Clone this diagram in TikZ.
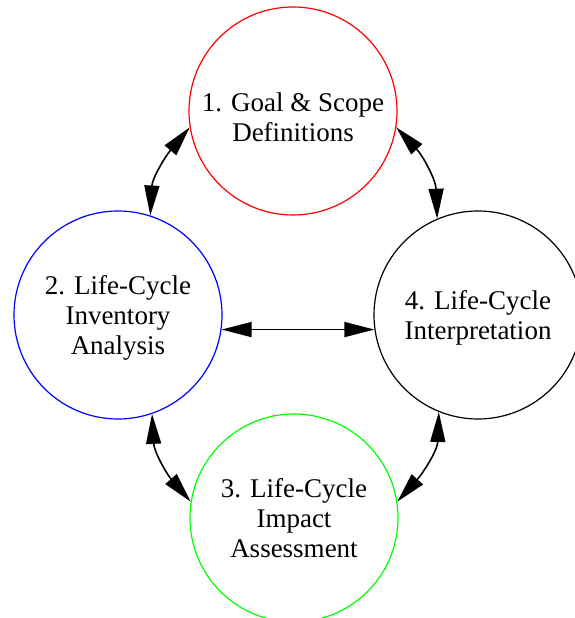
\documentclass[tikz,border=0pt]{standalone}
\usepackage{fontspec}
\setmainfont{Liberation Serif}
\usepackage{tikz}
\usetikzlibrary{arrows.meta}

\begin{document}
\begin{tikzpicture}[x=1pt,y=1pt]
\def\xmax{574};
\def\ymax{618};
\def\rad{104};

% Fix the page to the size of the reference
\useasboundingbox (0,0) rectangle (\xmax,\ymax);

% Style for the four stage circles and their text
\tikzstyle{stage}=[circle, draw, line width=1.2pt, minimum size=2*\rad pt, inner sep=0pt,
  align=center, font=\fontsize{27pt}{30pt}\selectfont, text=black, text depth=0pt]

% Style for the two-headed links between the stages
\tikzstyle{link}=[{Triangle[length=30pt,width=15pt]}-{Triangle[length=30pt,width=15pt]},
  line width=1.6pt, black]

% The four stages, placed round the page
\node[stage, draw=red, text height=62pt] (goal) at (293,507) {1. Goal \& Scope\\Definitions};
\node[stage, draw=blue] (inventory) at (118,303) {2. Life-Cycle\\Inventory\\Analysis};
\node[stage, draw=green] (impact) at (294,100) {3. Life-Cycle\\Impact\\Assessment};
\node[stage, draw=black] (interp) at (478,303) {4. Life-Cycle\\Interpretation};

% Links: curved ones round the outside, one straight across
\draw[link] (goal.189) to[out=230, in=87] (inventory.72);
\draw[link] (goal.351) to[out=313, in=92] (interp.113);
\draw[link] (inventory.289) to[out=273, in=131] (impact.171);
\draw[link] (interp.248) to[out=268, in=48] (impact.9);
\draw[link] (inventory.-8) -- (interp.188);

\end{tikzpicture}
\end{document}
